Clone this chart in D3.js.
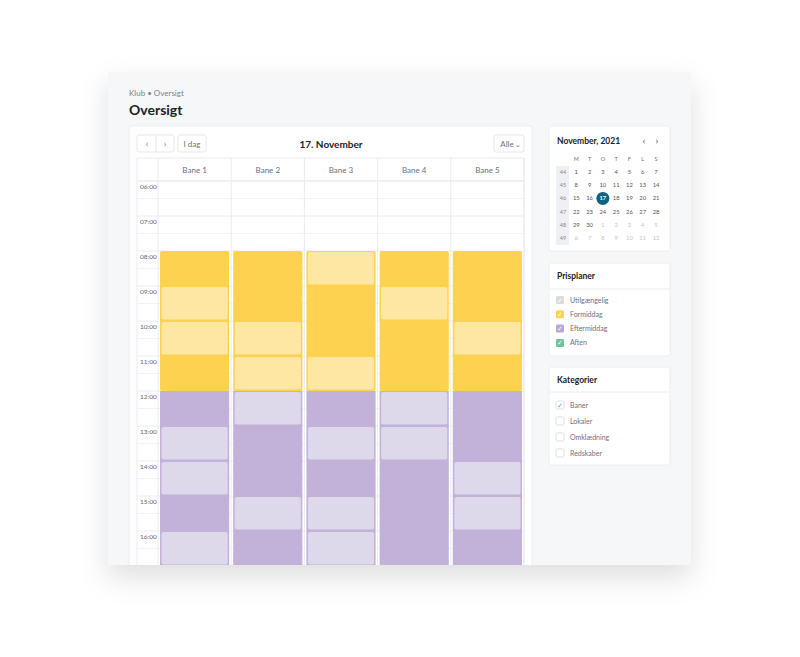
<!DOCTYPE html>
<html><head><meta charset="utf-8">
<script src="https://cdn.jsdelivr.net/npm/d3@7"></script>
<style>body{margin:0;background:#fff;font-family:Lato,"Noto Sans",sans-serif}</style>
</head><body><svg id="c" width="800" height="657"></svg>
<script>
const lanes=["Bane 1","Bane 2","Bane 3","Bane 4","Bane 5"];
const hours=["06:00","07:00","08:00","09:00","10:00","11:00","12:00","13:00","14:00","15:00","16:00"];
const plans=[{name:"Formiddag",start:8,end:12},{name:"Eftermiddag",start:12,end:18}];
const bookings=[[0,9],[0,10],[0,13],[0,14],[0,16],[1,10],[1,11],[1,12],[1,15],[2,8],[2,11],[2,13],[2,15],[2,16],[3,9],[3,12],[3,13],[4,10],[4,14],[4,15]];
const weekdays=["M","T","O","T","F","L","S"];
const weeks=[44,45,46,47,48,49];
const days=[[1,2,3,4,5,6,7],[8,9,10,11,12,13,14],[15,16,17,18,19,20,21],[22,23,24,25,26,27,28],[29,30,1,2,3,4,5],[6,7,8,9,10,11,12]];
const prisplaner=[["Utilgængelig","#dcdcdc"],["Formiddag","#fcd250"],["Eftermiddag","#b9a6d6"],["Aften","#6cc49a"]];
const kategorier=[["Baner",true],["Lokaler",false],["Omklædning",false],["Redskaber",false]];

const svg=d3.select("#c");
const defs=svg.append("defs");
const f=defs.append("filter").attr("id","sh").attr("x","-20%").attr("y","-20%").attr("width","140%").attr("height","150%");
f.append("feDropShadow").attr("dx",0).attr("dy",12).attr("stdDeviation",14).attr("flood-color","#000").attr("flood-opacity",0.13);
defs.append("clipPath").attr("id","cl").append("rect").attr("x",108).attr("y",72).attr("width",583).attr("height",493);
svg.append("rect").attr("x",108).attr("y",72).attr("width",583).attr("height",493).attr("fill","#f6f7f9").attr("filter","url(#sh)");
const g=svg.append("g").attr("clip-path","url(#cl)");
const T=(x,y,t,o={})=>g.append("text").attr("x",x).attr("y",y).text(t).attr("font-size",o.s||8).attr("fill",o.c||"#6b7280").attr("font-weight",o.w||400).attr("text-anchor",o.a||"start");
T(129,96,"Klub  •  Oversigt",{s:8,c:"#808080"});
T(129,115,"Oversigt",{s:14,c:"#222",w:700});
const card=(x,y,w,h)=>g.append("rect").attr("x",x).attr("y",y).attr("width",w).attr("height",h).attr("rx",2).attr("fill","#fff").attr("stroke","#eceef1");
card(129,126,403,460);
const btn=(x,w)=>g.append("rect").attr("x",x).attr("y",135).attr("width",w).attr("height",17).attr("rx",2).attr("fill","#fff").attr("stroke","#e5e7eb");
btn(137,37);g.append("line").attr("x1",156).attr("x2",156).attr("y1",135).attr("y2",152).attr("stroke","#e5e7eb");
T(147,147,"‹",{s:9,c:"#777",a:"middle"});T(165,147,"›",{s:9,c:"#777",a:"middle"});
btn(178,28);T(192,147,"I dag",{s:8,a:"middle"});
btn(494,30);T(507,147,"Alle",{s:8,a:"middle"});T(518,147,"⌄",{s:7,a:"middle"});
T(331,148,"17. November",{s:10,c:"#222",w:700,a:"middle"});
const x=d3.scaleBand().domain(lanes).range([158,524]);
const y=d3.scaleLinear().domain([6,17]).range([181,566]);
const gx=137,gr=524;
g.append("rect").attr("x",gx).attr("y",158).attr("width",gr-gx).attr("height",420).attr("fill","none").attr("stroke","#e8ecf1");
g.append("line").attr("x1",gx).attr("x2",gr).attr("y1",181).attr("y2",181).attr("stroke","#e8ecf1");
for(let h=6;h<17;h+=0.5){g.append("line").attr("x1",gx).attr("x2",gr).attr("y1",y(h)).attr("y2",y(h)).attr("stroke",h%1?"#f1f3f6":"#e8ecf1");}
[158,...lanes.map(l=>x(l)+x.bandwidth())].forEach(v=>g.append("line").attr("x1",v).attr("x2",v).attr("y1",158).attr("y2",600).attr("stroke","#e8ecf1"));
lanes.forEach(l=>T(x(l)+x.bandwidth()/2,173,l,{s:8,a:"middle"}));
hours.forEach((h,i)=>T(140,y(6+i)+8,h,{s:6.5,c:"#666"}));
const cols={Formiddag:["#fcd250","#fde7a3"],Eftermiddag:["#c2b1d8","#ddd8ea"]};
lanes.forEach(l=>plans.forEach(p=>g.append("rect").attr("x",x(l)+2).attr("y",y(p.start)).attr("width",x.bandwidth()-4).attr("height",y(p.end)-y(p.start)).attr("rx",p.start==8?2:0).attr("fill",cols[p.name][0])));
bookings.forEach(([li,h])=>{const p=h<12?"Formiddag":"Eftermiddag";g.append("rect").attr("x",x(lanes[li])+3.5).attr("y",y(h)+1).attr("width",x.bandwidth()-7).attr("height",y(h+1)-y(h)-2.5).attr("rx",2).attr("fill",cols[p][1]);});
card(549,126,121,125);
T(557,144,"November, 2021",{s:8.5,c:"#222",w:700});
T(644,144,"‹",{s:10,c:"#444",a:"middle"});T(657,144,"›",{s:10,c:"#444",a:"middle"});
const cx=d3.scalePoint().domain(d3.range(8)).range([563,656]);
const cy=d3.scalePoint().domain(d3.range(6)).range([172,238]);
g.append("rect").attr("x",556).attr("y",166).attr("width",13).attr("height",79).attr("fill","#eef0f3");
weekdays.forEach((d,i)=>T(cx(i+1),161,d,{s:5.5,a:"middle"}));
weeks.forEach((w,r)=>T(cx(0),cy(r)+2,w,{s:5.5,c:"#888",a:"middle"}));
days.forEach((row,r)=>row.forEach((d,i)=>{const other=(r==4&&i>1)||r==5;
 if(r==2&&i==2){g.append("circle").attr("cx",cx(i+1)).attr("cy",cy(r)).attr("r",6.5).attr("fill","#0e6380");}
 T(cx(i+1),cy(r)+2,d,{s:5.8,c:r==2&&i==2?"#fff":other?"#c4c4c4":"#555",w:r==2&&i==2?700:400,a:"middle"});}));
card(549,263,121,93);
T(557,279,"Prisplaner",{s:8.5,c:"#222",w:700});
g.append("line").attr("x1",549).attr("x2",670).attr("y1",289).attr("y2",289).attr("stroke","#eceef1");
prisplaner.forEach(([n,c],i)=>{const yy=300+i*14.3;g.append("rect").attr("x",556).attr("y",yy-4).attr("width",8).attr("height",8).attr("rx",1.5).attr("fill",c);
 T(560,yy+2.5,"✓",{s:6.5,c:"#fff",a:"middle"});T(570,yy+2.5,n,{s:7});});
card(549,367,121,98);
T(557,383,"Kategorier",{s:8.5,c:"#222",w:700});
g.append("line").attr("x1",549).attr("x2",670).attr("y1",392).attr("y2",392).attr("stroke","#eceef1");
kategorier.forEach(([n,ch],i)=>{const yy=405+i*16;g.append("rect").attr("x",556).attr("y",yy-4).attr("width",8).attr("height",8).attr("rx",1.5).attr("fill","#fff").attr("stroke","#dde0e4");
 if(ch)T(560,yy+2.5,"✓",{s:6.5,c:"#4caf78",a:"middle"});T(570,yy+2.5,n,{s:7});});
</script></body></html>
